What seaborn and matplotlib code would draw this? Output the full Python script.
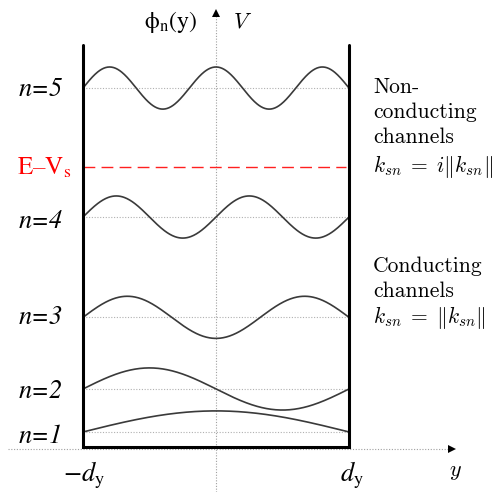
import numpy as np
import pandas as pd
import matplotlib
matplotlib.use("Agg")
import matplotlib.pyplot as plt
import seaborn as sns

# ---- data ----
levels = [1, 2, 3, 4, 5]
energies = [1.0, 4.0, 9.0, 16.0, 25.0]     # level baselines (in n^2 units)
half_waves = [1, 2, 3, 4, 5]               # number of half wavelengths across the well
amplitude = 1.47
e_minus_vs = 19.5
level_labels = ["n=1", "n=2", "n=3", "n=4", "n=5"]
well_edges = [-1.0, 1.0]
wall_top = 28.0

sns.set_theme(style="white")
plt.rcParams["font.family"] = ["STIXGeneral", "DejaVu Serif"]

fig = plt.figure(figsize=(5.04, 4.92), dpi=100)
ax = fig.add_axes([0, 0, 1, 1])

def X(px):
    return (px - 216) / 133.0

def E(py):
    return (446.3 - py) / 14.33

ax.set_xlim(X(0), X(504))
ax.set_ylim(E(492), E(0))
ax.axis("off")

# wavefunctions
xs = np.linspace(well_edges[0], well_edges[1], 400)
rows = []
for n, en, k in zip(levels, energies, half_waves):
    u = (xs - well_edges[0]) / (well_edges[1] - well_edges[0])
    for xv, uv in zip(xs, u):
        rows.append({"y": xv, "phi": en + amplitude * np.sin(k * np.pi * uv), "n": n})
df = pd.DataFrame(rows)

# dotted level lines
for en in energies:
    ax.plot(well_edges, [en, en], ls=(0, (1, 1.5)), color="#b0b0b0", lw=0.8, zorder=1)

# axes (dotted) with arrows
ax.plot([X(8), X(452)], [E(449), E(449)], ls=(0, (1, 1.5)), color="#a0a0a0", lw=0.8, zorder=1)
ax.plot([X(452)], [E(449)], marker=">", color="black", ms=6, mew=0, zorder=3)
ax.plot([0, 0], [E(492), E(16)], ls=(0, (1, 1.5)), color="#a0a0a0", lw=0.8, zorder=1)
ax.plot([0], [E(13)], marker="^", color="black", ms=6, mew=0, zorder=3)

sns.lineplot(data=df, x="y", y="phi", hue="n", palette=["#3a3a3a"] * 5,
             legend=False, lw=1.2, sort=False, estimator=None, ax=ax, zorder=2)

# E - Vs dashed line
ax.plot([well_edges[0], X(346)], [e_minus_vs, e_minus_vs], color="#ff2020", lw=1.0,
        dashes=(8.5, 4.5), zorder=2)

# well walls
bottom = E(447)
ax.plot([well_edges[0], well_edges[0], well_edges[1], well_edges[1]],
        [wall_top, bottom, bottom, wall_top], color="black", lw=2.2,
        solid_joinstyle="miter", zorder=4)

def ftext(px, py, s, **kw):
    fig.text(px / 504.0, 1 - py / 492.0, s, **kw)

# level labels
label_py = [437, 392, 318, 222, 90]
for lab, py in zip(level_labels, label_py):
    ftext(63, py, lab, ha="right", va="center", fontsize=19, fontstyle="italic",
          family="STIXGeneral", color="black")

ftext(17, 175, "E\u2013V$_\\mathrm{s}$", ha="left", va="baseline", fontsize=18,
      color="#ff0000", family="STIXGeneral", math_fontfamily="stix")

ftext(170, 28, "\u03d5$_\\mathrm{n}$(y)", ha="center", va="baseline", fontsize=17,
      family="STIXGeneral", math_fontfamily="stix", color="black")
ftext(243, 28, "$V$", ha="center", va="baseline", fontsize=16, math_fontfamily="cm",
      color="black")

ftext(84, 481, "$-d_{\\mathrm{y}}$", ha="center", va="baseline", fontsize=19,
      math_fontfamily="stix", color="black")
ftext(352, 481, "$d_{\\mathrm{y}}$", ha="center", va="baseline", fontsize=19,
      math_fontfamily="stix", color="black")
ftext(455, 476, "$y$", ha="center", va="baseline", fontsize=16,
      math_fontfamily="cm", color="black")

# right-hand annotations
right_x = 373
for py, s in zip([93, 118, 143], ["Non-", "conducting", "channels"]):
    ftext(right_x, py, s, ha="left", va="baseline", fontsize=15.5, family="cmr10",
          color="black")
ftext(right_x, 172, "$k_{sn}\\;=\\;i\\|k_{sn}\\|$", ha="left", va="baseline",
      fontsize=15.5, math_fontfamily="cm", color="black")

for py, s in zip([272, 297], ["Conducting", "channels"]):
    ftext(right_x, py, s, ha="left", va="baseline", fontsize=15.5, family="cmr10",
          color="black")
ftext(right_x, 323, "$k_{sn}\\;=\\;\\|k_{sn}\\|$", ha="left", va="baseline",
      fontsize=15.5, math_fontfamily="cm", color="black")

fig.savefig("out.png", dpi=100, facecolor="white")
